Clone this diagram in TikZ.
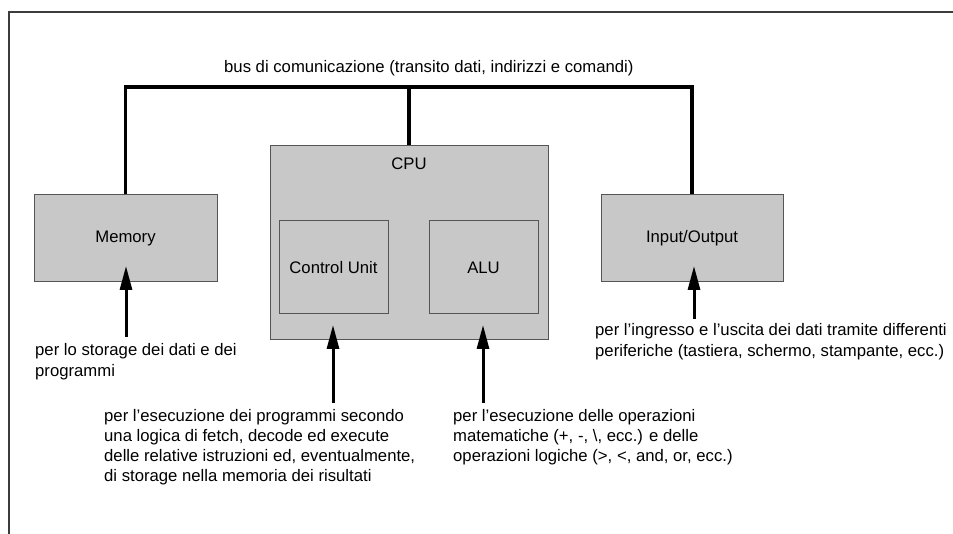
\documentclass[tikz,border=0pt]{standalone}
\usepackage{fontspec}
\setmainfont{Liberation Sans}
\usetikzlibrary{arrows.meta}
\definecolor{boxfill}{RGB}{200,200,200}
\definecolor{boxline}{RGB}{85,85,85}
\definecolor{frameline}{RGB}{60,60,60}
\newcommand\myfnt{\fontsize{16.7}{20.3}\selectfont}
\begin{document}
\begin{tikzpicture}[x=1pt,y=-1pt,
  box/.style={draw=boxline, fill=boxfill, line width=1pt, inner sep=0pt, font=\myfnt},
  bus/.style={line width=3.6pt, line join=miter},
  note/.style={anchor=base west, inner sep=0pt, font=\myfnt},
  uparrow/.style={line width=3pt, -{Triangle[length=24pt,width=12pt]}},
  frame/.style={draw=frameline, line width=1.5pt}]
\path[use as bounding box] (0,0) rectangle (953,534);
\draw[frame] (953,12) -- (9,12) -- (9,534);

% boxes
\node[box, minimum width=183pt, minimum height=87pt] (mem) at (125.5,238.5) {Memory};
\node[box, minimum width=278pt, minimum height=194pt] (cpu) at (409,243) {};
\node[anchor=base, inner sep=0pt, font=\myfnt] (cpulbl) at (409,170) {CPU};
\node[box, minimum width=109pt, minimum height=93pt] (cu) at (333.5,267.5) {Control Unit};
\node[box, minimum width=109pt, minimum height=93pt] (alu) at (483.5,267.5) {ALU};
\node[box, minimum width=182pt, minimum height=87pt] (io) at (692,238.5) {Input/Output};

% bus
\coordinate (bustop) at (409,87);
\node[anchor=base west, inner sep=0pt, font=\myfnt] (buslbl) at (224,73) {bus di comunicazione (transito dati, indirizzi e comandi)};
\draw[bus] (mem.north) |- (bustop) -| (io.north);
\draw[bus] (cpu.north) -- (bustop);

% notes
\node[note] (memnote) at (35,356) {\begin{tabular}[t]{@{}l@{}}per lo storage dei dati e dei\\programmi\end{tabular}};
\node[note] (ionote) at (595,336) {\begin{tabular}[t]{@{}l@{}}per l’ingresso e l’uscita dei dati tramite differenti\\periferiche (tastiera, schermo, stampante, ecc.)\end{tabular}};
\node[note] (cunote) at (104,421) {\begin{tabular}[t]{@{}l@{}}per l’esecuzione dei programmi secondo\\una logica di fetch, decode ed execute\\delle relative istruzioni ed, eventualmente,\\di storage nella memoria dei risultati\end{tabular}};
\node[note] (alunote) at (453,421) {\begin{tabular}[t]{@{}l@{}}per l’esecuzione delle operazioni\\matematiche (+, -, \textbackslash, ecc.) e delle\\operazioni logiche (>, <, and, or, ecc.)\end{tabular}};

% arrows
\coordinate (memtail) at (126,337);
\coordinate (memtip) at (126,266);
\coordinate (iotail) at (694,319);
\coordinate (iotip) at (694,266);
\coordinate (cutail) at (333,403);
\coordinate (cutip) at (333,325);
\coordinate (alutail) at (483,403);
\coordinate (alutip) at (483,325);
\draw[uparrow] (memtail) -- (memtip);
\draw[uparrow] (iotail) -- (iotip);
\draw[uparrow] (cutail) -- (cutip);
\draw[uparrow] (alutail) -- (alutip);
\end{tikzpicture}
\end{document}
